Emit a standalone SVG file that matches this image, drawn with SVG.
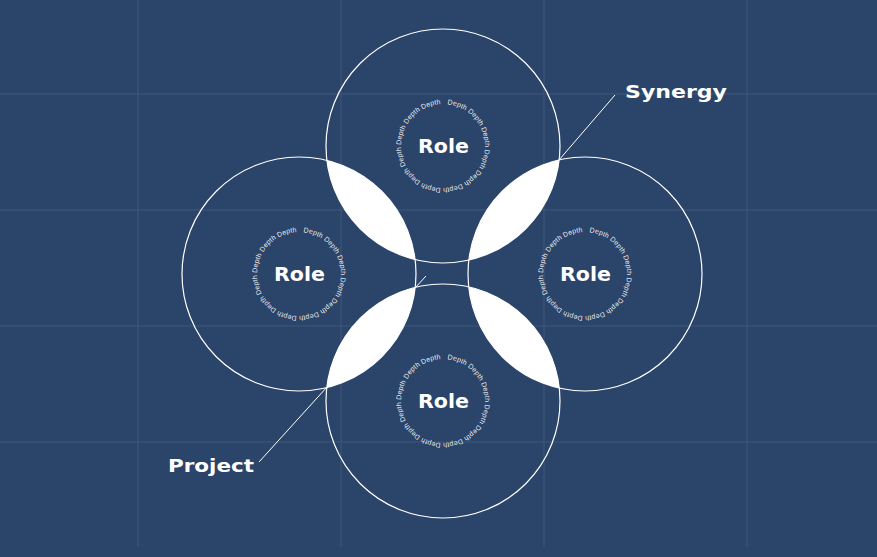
<svg xmlns="http://www.w3.org/2000/svg" width="877" height="557" viewBox="0 0 877 557">
  <style>
    .grid { stroke: #3f5779; stroke-width: 1; }
    .ring { fill: none; stroke: #ffffff; stroke-width: 1.2; }
    .lens { fill: #ffffff; }
    .role { font-family: "DejaVu Sans", "Liberation Sans", sans-serif; font-weight: bold; font-size: 19px; fill: #ffffff; text-anchor: middle; dominant-baseline: central; }
    .depth { font-family: "Liberation Sans", "DejaVu Sans", sans-serif; font-size: 7px; fill: #ffffff; fill-opacity: 0.92; letter-spacing: 0.15px; }
    .label { font-family: "DejaVu Sans", "Liberation Sans", sans-serif; font-weight: bold; font-size: 18px; fill: #ffffff; }
    .conn { stroke: #ffffff; stroke-width: 1; fill: none; }
  </style>
  <defs>
    <path id="ringPath" d="M 4.39 -41.77 A 42 42 0 0 1 -4.39 41.77 A 42 42 0 0 1 4.39 -41.77"/>
    <clipPath id="clipLeft"><circle cx="299" cy="274" r="117"/></clipPath>
    <clipPath id="clipRight"><circle cx="585" cy="274" r="117"/></clipPath>
  </defs>

  <rect x="0" y="0" width="877" height="557" fill="#2b4469"/>

  <g id="grid">
    <line class="grid" x1="138" y1="0" x2="138" y2="547"/>
    <line class="grid" x1="341" y1="0" x2="341" y2="547"/>
    <line class="grid" x1="544" y1="0" x2="544" y2="547"/>
    <line class="grid" x1="747" y1="0" x2="747" y2="547"/>
    <line class="grid" x1="0" y1="94" x2="877" y2="94"/>
    <line class="grid" x1="0" y1="210" x2="877" y2="210"/>
    <line class="grid" x1="0" y1="326" x2="877" y2="326"/>
    <line class="grid" x1="0" y1="442" x2="877" y2="442"/>
  </g>

  <g id="overlaps">
    <circle class="lens" cx="443" cy="146" r="117" clip-path="url(#clipLeft)"/>
    <circle class="lens" cx="443" cy="146" r="117" clip-path="url(#clipRight)"/>
    <circle class="lens" cx="443" cy="401" r="117" clip-path="url(#clipLeft)"/>
    <circle class="lens" cx="443" cy="401" r="117" clip-path="url(#clipRight)"/>
  </g>

  <g id="node-top">
    <circle class="ring" cx="443" cy="146" r="117"/>
    <g transform="translate(443,146)">
      <text class="depth"><textPath href="#ringPath">Depth Depth Depth Depth Depth Depth Depth Depth Depth Depth Depth Depth</textPath></text>
    </g>
    <text class="role" x="443.5" y="146" textLength="51" lengthAdjust="spacingAndGlyphs">Role</text>
  </g>

  <g id="node-left">
    <circle class="ring" cx="299" cy="274" r="117"/>
    <g transform="translate(299,274)">
      <text class="depth"><textPath href="#ringPath">Depth Depth Depth Depth Depth Depth Depth Depth Depth Depth Depth Depth</textPath></text>
    </g>
    <text class="role" x="299.5" y="274" textLength="51" lengthAdjust="spacingAndGlyphs">Role</text>
  </g>

  <g id="node-right">
    <circle class="ring" cx="585" cy="274" r="117"/>
    <g transform="translate(585,274)">
      <text class="depth"><textPath href="#ringPath">Depth Depth Depth Depth Depth Depth Depth Depth Depth Depth Depth Depth</textPath></text>
    </g>
    <text class="role" x="585.5" y="274" textLength="51" lengthAdjust="spacingAndGlyphs">Role</text>
  </g>

  <g id="node-bottom">
    <circle class="ring" cx="443" cy="401" r="117"/>
    <g transform="translate(443,401)">
      <text class="depth"><textPath href="#ringPath">Depth Depth Depth Depth Depth Depth Depth Depth Depth Depth Depth Depth</textPath></text>
    </g>
    <text class="role" x="443.5" y="401" textLength="51" lengthAdjust="spacingAndGlyphs">Role</text>
  </g>

  <g id="connectors">
    <line class="conn" x1="559" y1="160" x2="615" y2="95"/>
    <line class="conn" x1="327" y1="387" x2="259" y2="462"/>
    <line class="conn" x1="415.5" y1="287.5" x2="426" y2="276"/>
  </g>

  <g id="labels">
    <text id="label-synergy" class="label" x="625" y="98" textLength="102" lengthAdjust="spacingAndGlyphs">Synergy</text>
    <text id="label-project" class="label" x="168" y="472" textLength="86" lengthAdjust="spacingAndGlyphs">Project</text>
  </g>
</svg>
